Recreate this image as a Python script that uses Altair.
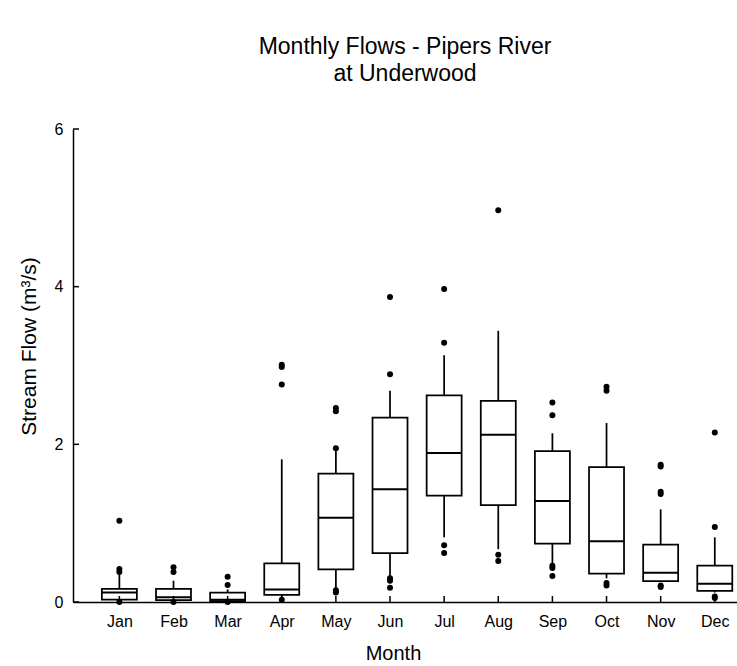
import altair as alt
import pandas as pd

months = ["Jan", "Feb", "Mar", "Apr", "May", "Jun", "Jul", "Aug", "Sep", "Oct", "Nov", "Dec"]
month_idx = list(range(1, 13))

# box statistics (m3/s)
whisker_low = [0.01, 0.01, 0.00, 0.04, 0.16, 0.33, 0.82, 0.67, 0.49, 0.30, 0.26, 0.12]
q1 = [0.03, 0.025, 0.01, 0.09, 0.415, 0.62, 1.35, 1.23, 0.74, 0.36, 0.266, 0.14]
median = [0.12, 0.06, 0.03, 0.16, 1.07, 1.43, 1.89, 2.12, 1.28, 0.77, 0.37, 0.23]
q3 = [0.165, 0.165, 0.118, 0.49, 1.63, 2.34, 2.62, 2.55, 1.915, 1.71, 0.727, 0.46]
whisker_high = [0.37, 0.27, 0.16, 1.81, 1.93, 2.68, 3.13, 3.44, 2.14, 2.27, 1.175, 0.82]

# outliers: month index and value
outlier_month = [1, 1, 1, 1,
                 2, 2, 2,
                 3, 3, 3,
                 4, 4, 4, 4,
                 5, 5, 5, 5, 5,
                 6, 6, 6, 6, 6,
                 7, 7, 7, 7,
                 8, 8, 8,
                 9, 9, 9, 9, 9,
                 10, 10, 10, 10,
                 11, 11, 11, 11, 11, 11,
                 12, 12, 12, 12]
outlier_value = [1.03, 0.42, 0.38, 0.0,
                 0.44, 0.38, 0.0,
                 0.32, 0.215, 0.0,
                 3.01, 2.98, 2.76, 0.03,
                 2.46, 2.42, 1.95, 0.15, 0.12,
                 3.87, 2.89, 0.30, 0.27, 0.18,
                 3.97, 3.29, 0.72, 0.62,
                 4.97, 0.60, 0.52,
                 2.53, 2.37, 0.46, 0.43, 0.33,
                 2.73, 2.68, 0.24, 0.21,
                 1.74, 1.72, 1.40, 1.37, 0.21, 0.19,
                 2.15, 0.95, 0.07, 0.05]

y_ticks = [0, 2, 4, 6]

title_lines = ["Monthly Flows - Pipers River", "at Underwood"]
x_title = "Month"
y_title = "Stream Flow (m\u00b3/s)"

FONT = "Liberation Sans"
W, H = 664, 473

box_df = pd.DataFrame({"idx": month_idx, "month": months, "wlo": whisker_low, "q1": q1,
                       "med": median, "q3": q3, "whi": whisker_high})
out_df = pd.DataFrame({"idx": outlier_month, "val": outlier_value})
ytick_df = pd.DataFrame({"t": y_ticks})

label_expr = "[" + ",".join("'" + m + "'" for m in months) + "][datum.value - 1]"

xscale = alt.Scale(domain=[0.2357, 12.318], nice=False, zero=False)
yscale = alt.Scale(domain=[0, 6], nice=False, zero=True)

xaxis = alt.Axis(values=month_idx, labelExpr=label_expr, ticks=False, grid=False,
                 labelOverlap=False, labelFlush=False, labelPadding=11,
                 title=x_title, titleX=320, titleY=51, titleBaseline="middle")
yaxis = alt.Axis(values=y_ticks, ticks=False, grid=False, labelPadding=10,
                 title=y_title, titleX=-34, titleY=217, titleAlign="center",
                 titleFontSize=21)


def X(field="idx"):
    return alt.X(f"{field}:Q", scale=xscale, axis=xaxis)


def Y(field):
    return alt.Y(f"{field}:Q", scale=yscale, axis=yaxis)


base = alt.Chart(box_df)

whisk_lo = base.mark_rule(color="black", strokeWidth=1.75).encode(
    x=X(), y=Y("wlo"), y2="q1:Q")
whisk_hi = base.mark_rule(color="black", strokeWidth=1.75).encode(
    x=X(), y=Y("q3"), y2="whi:Q")
boxes = base.mark_bar(fill="white", stroke="black", strokeWidth=1.75, size=35).encode(
    x=X(), y=Y("q1"), y2="q3:Q")
meds = base.mark_tick(color="black", opacity=1, orient="horizontal", size=35,
                      thickness=2).encode(
    x=X(), y=Y("med"))
pts = alt.Chart(out_df).mark_circle(color="black", opacity=1, size=36).encode(
    x=X(), y=Y("val"))
xticks = base.mark_tick(color="black", opacity=1, orient="vertical", size=6,
                        thickness=1.5).encode(
    x=X(), y=alt.value(H - 3))
yticks = alt.Chart(ytick_df).mark_tick(color="black", opacity=1, orient="horizontal",
                                       size=6, thickness=1.5).encode(
    x=alt.value(3), y=Y("t"))

chart = alt.layer(whisk_lo, whisk_hi, boxes, meds, pts, xticks, yticks).properties(
    width=W, height=H,
    title=alt.TitleParams(text=title_lines, fontSize=23, font=FONT, fontWeight="normal",
                          anchor="middle", offset=35, color="black", lineHeight=27),
    autosize=alt.AutoSizeParams(type="none"),
    padding={"left": 73, "top": 129, "right": 0, "bottom": 64},
).configure_view(stroke=None).configure_axis(
    domainColor="black", domainWidth=1.5, labelColor="black", titleColor="black",
    labelFont=FONT, titleFont=FONT, labelFontSize=16, titleFontSize=20,
    titleFontWeight="normal",
)

chart.save("out.html", embed_options={"renderer": "svg", "actions": False})
